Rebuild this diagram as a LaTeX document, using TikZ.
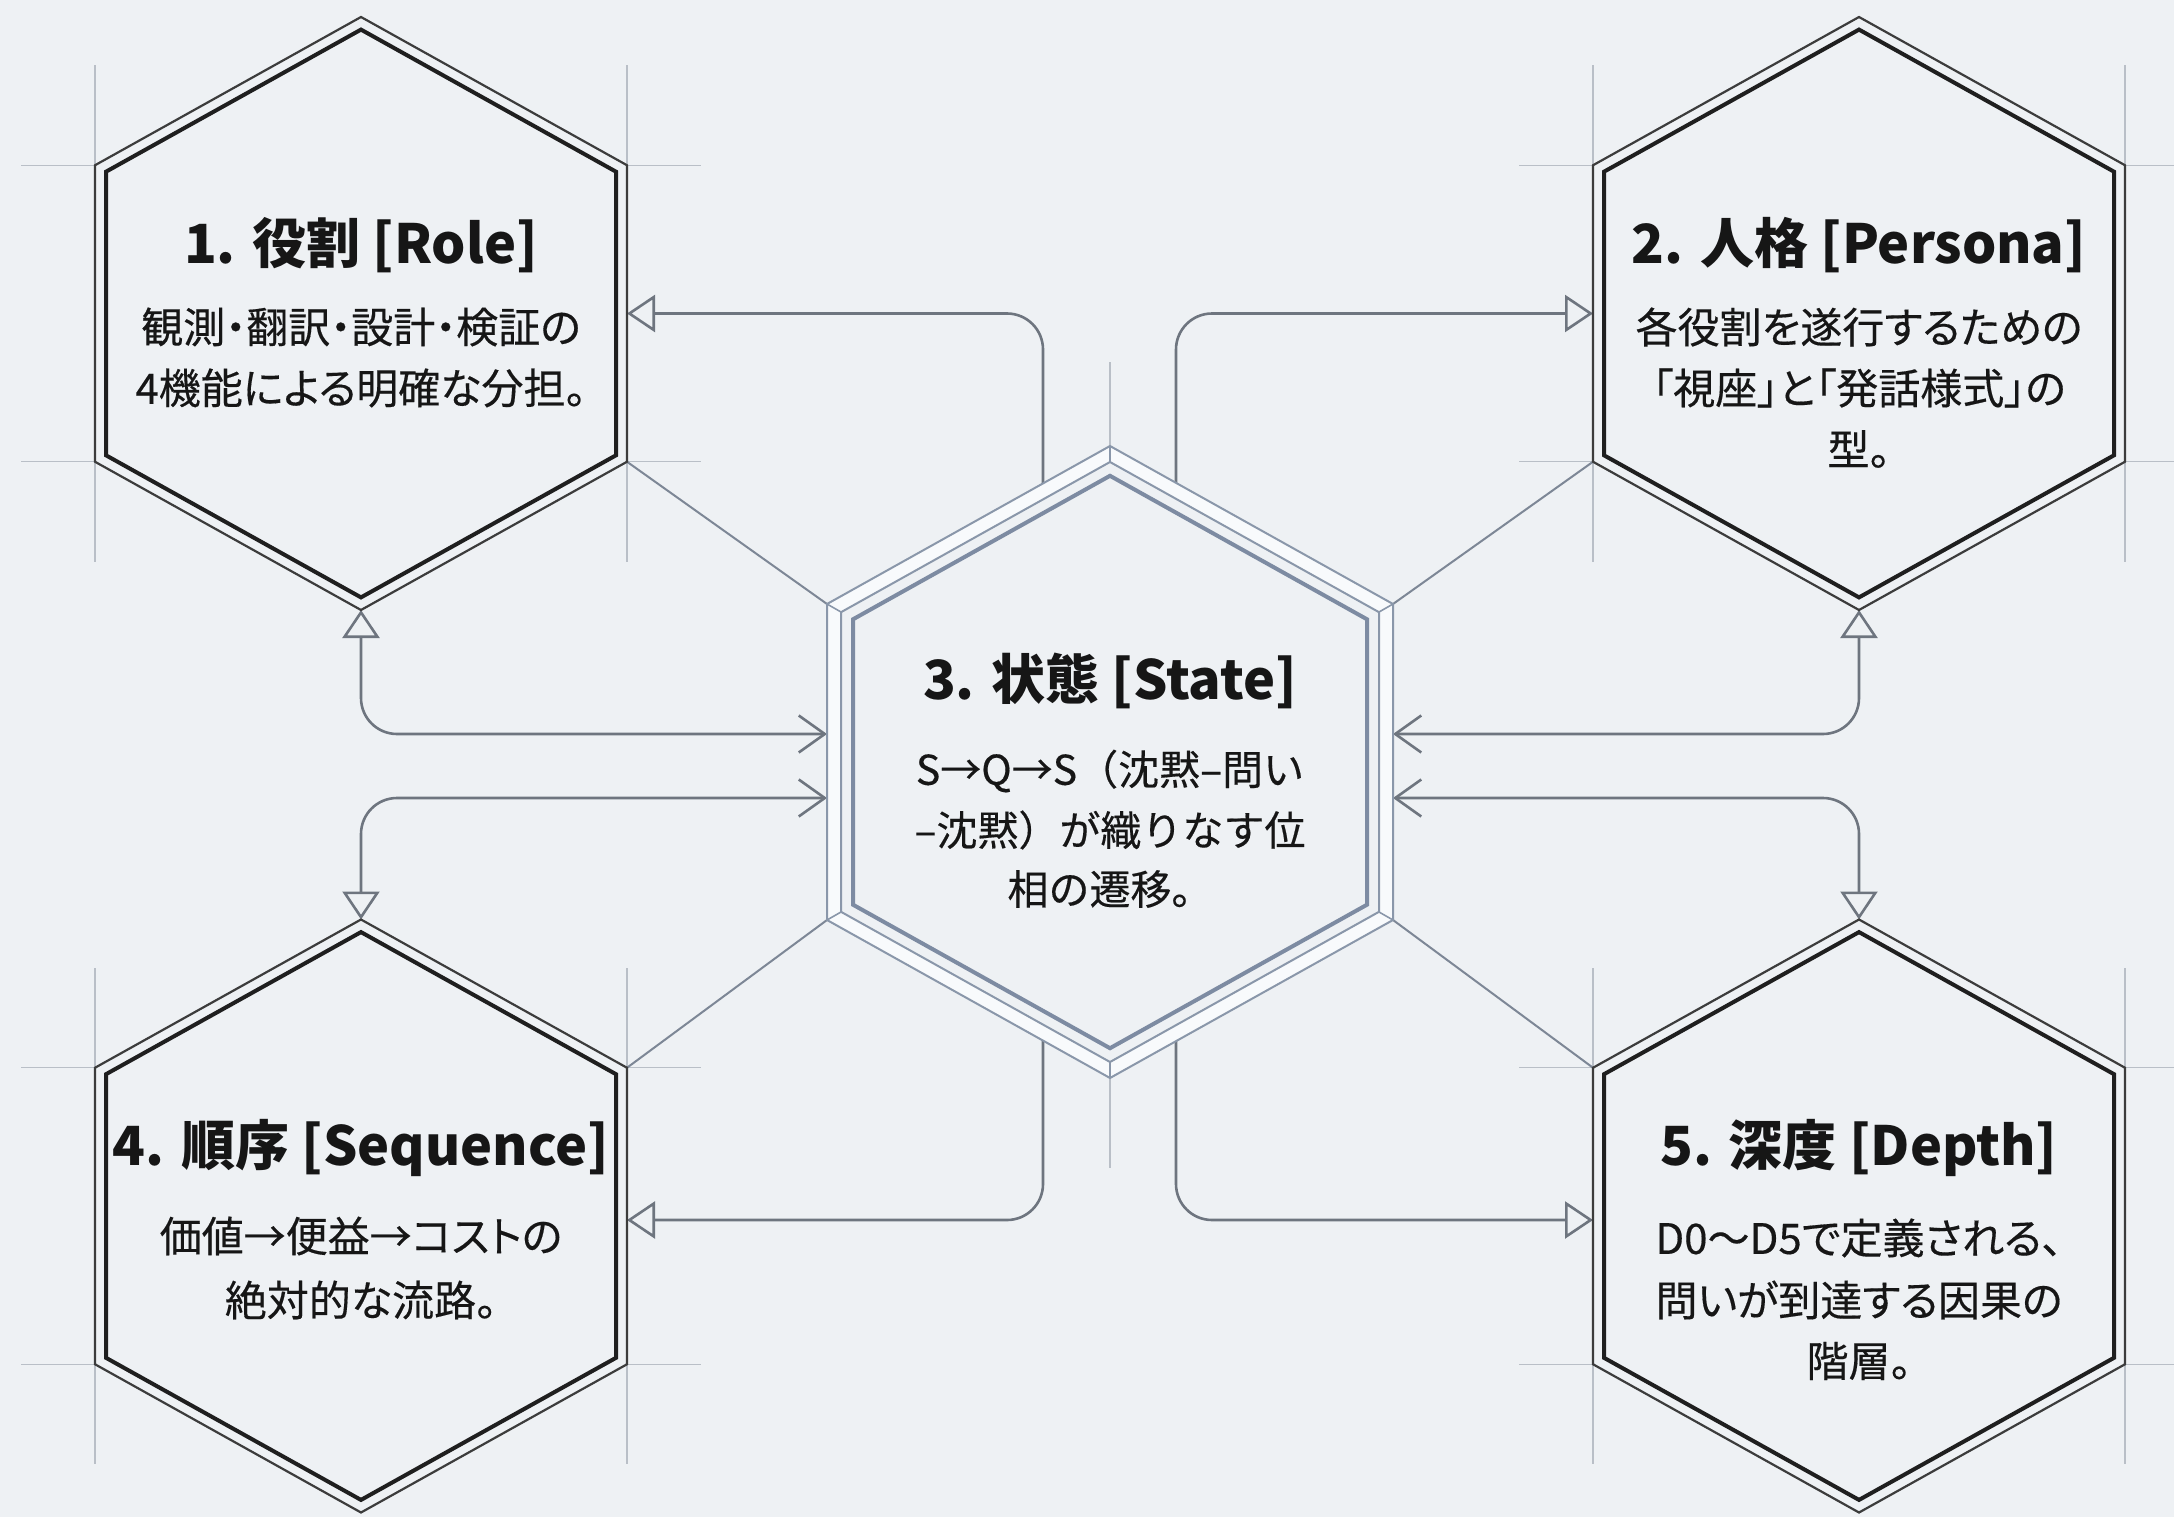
\documentclass[tikz,border=0pt]{standalone}
\usepackage{fontspec}
\newfontfamily\jp{Noto Sans CJK JP}
\newfontfamily\jpb[RawFeature=+palt, FakeBold=0.35]{Noto Sans CJK JP}
\newfontfamily\jpc[FakeBold=0.35]{Noto Sans CJK JP}
\usetikzlibrary{arrows.meta,calc}
\definecolor{bgc}{HTML}{EEF1F4}
\definecolor{guidec}{HTML}{B9BFC7}
\definecolor{connc}{HTML}{6E757F}
\definecolor{diagc}{HTML}{7D8796}
\definecolor{hexo}{HTML}{3C3C3C}
\definecolor{hexi}{HTML}{1F1F1F}
\definecolor{cenc}{HTML}{8A97AA}
\definecolor{cenic}{HTML}{7D8BA2}
\definecolor{cenband}{HTML}{F8FAFC}
\definecolor{txtc}{HTML}{161616}
% hexagon: style, cx, cy, half width, apex radius, vertex offset
\newcommand\drawhex[6]{\path[#1] (#2,#3-#5) -- (#2+#4,#3-#6) -- (#2+#4,#3+#6) -- (#2,#3+#5) -- (#2-#4,#3+#6) -- (#2-#4,#3-#6) -- cycle;}
% guide lines round an outer hexagon: cx, cy
\newcommand\hexguides[2]{%
  \draw[guidec, line width=1.4pt] (#1-266,#2-248) -- (#1-266,#2+248);
  \draw[guidec, line width=1.4pt] (#1+266,#2-248) -- (#1+266,#2+248);
  \draw[guidec, line width=1.4pt] (#1-340,#2-148.25) -- (#1-266,#2-148.25);
  \draw[guidec, line width=1.4pt] (#1-340,#2+148.25) -- (#1-266,#2+148.25);
  \draw[guidec, line width=1.4pt] (#1+266,#2-148.25) -- (#1+340,#2-148.25);
  \draw[guidec, line width=1.4pt] (#1+266,#2+148.25) -- (#1+340,#2+148.25);}
\newcommand\sidehex[2]{%
  \drawhex{fill=bgc, draw=hexo, line width=2.2pt, line join=miter}{#1}{#2}{266}{296.5}{148.25}
  \drawhex{draw=hexi, line width=4pt, line join=miter}{#1}{#2}{255}{283.9}{141.8}}
\tikzset{
  hexbox/.style={draw=none, inner sep=0pt, outer sep=0pt},
  conn/.style={draw=connc, line width=2.6pt, rounded corners=36pt},
  tri/.tip={Triangle[open, length=28pt, width=37pt]},
  barb/.tip={Straight Barb[length=26pt, width=37pt]},
  ttl/.style={font=\jp\bfseries\fontsize{54}{64}\selectfont, text=txtc, inner sep=0pt},
  bod/.style={font=\jpb\fontsize{42}{50}\selectfont, text=txtc, inner sep=0pt},
  bodc/.style={font=\jpc\fontsize{41}{50}\selectfont, text=txtc, inner sep=0pt},
  diag/.style={draw=diagc, line width=2pt}
}
\begin{document}
\begin{tikzpicture}[x=1pt, y=-1pt]
\useasboundingbox (0,0) rectangle (2174,1517);
\fill[bgc] (0,0) rectangle (2174,1517);
\clip (0,0) rectangle (2174,1517);

% invisible boxes naming the hexagons
\node[hexbox, minimum width=532pt, minimum height=593pt] (h1) at (361,313.5) {};
\node[hexbox, minimum width=532pt, minimum height=593pt] (h2) at (1859,313.5) {};
\node[hexbox, minimum width=566pt, minimum height=632pt] (h3) at (1110,762) {};
\node[hexbox, minimum width=532pt, minimum height=593pt] (h4) at (361,1216) {};
\node[hexbox, minimum width=532pt, minimum height=593pt] (h5) at (1859,1216) {};

% guides
\hexguides{361}{313.5}
\hexguides{1859}{313.5}
\hexguides{361}{1216}
\hexguides{1859}{1216}
\draw[guidec, line width=1.6pt] (h3.north) -- ++(0,-84);
\draw[guidec, line width=1.6pt] (h3.south) -- ++(0,90);

% diagonal links between hexagon corners
\draw[diag] ($(h1.east)+(0,148.25)$) -- ($(h3.west)+(0,-158)$);
\draw[diag] ($(h2.west)+(0,148.25)$) -- ($(h3.east)+(0,-158)$);
\draw[diag] ($(h4.east)+(0,-148.25)$) -- ($(h3.west)+(0,158)$);
\draw[diag] ($(h5.west)+(0,-148.25)$) -- ($(h3.east)+(0,158)$);

% connectors
\draw[conn, -{tri}] ($(h3.north)+(-67,37.4)$) |- (h1.east);
\draw[conn, -{tri}] ($(h3.north)+(66,37.4)$) |- (h2.west);
\draw[conn, -{tri}] ($(h3.south)+(-67,-37.4)$) |- ($(h4.east)+(0,4)$);
\draw[conn, -{tri}] ($(h3.south)+(66,-37.4)$) |- ($(h5.west)+(0,4)$);
\draw[conn, {tri}-{barb}] (h1.south) |- ($(h3.west)+(0,-28)$);
\draw[conn, {tri}-{barb}] (h4.north) |- ($(h3.west)+(0,36)$);
\draw[conn, {tri}-{barb}] (h2.south) |- ($(h3.east)+(0,-28)$);
\draw[conn, {tri}-{barb}] (h5.north) |- ($(h3.east)+(0,36)$);

% side hexagons
\sidehex{361}{313.5}
\sidehex{1859}{313.5}
\sidehex{361}{1216}
\sidehex{1859}{1216}

% central hexagon
\drawhex{fill=cenband, draw=cenc, line width=2pt, line join=miter}{1110}{762}{283}{316}{158}
\drawhex{fill=bgc, draw=cenc, line width=2pt, line join=miter}{1110}{762}{269}{300}{149.8}
\drawhex{draw=cenic, line width=4pt, line join=miter}{1110}{762}{257}{286.2}{142.7}
\draw[cenc, line width=1.6pt] (1110,446) -- (1110,462) (1110,1078) -- (1110,1062)
  (827,604) -- (841,612) (1393,604) -- (1379,612) (827,920) -- (841,912) (1393,920) -- (1379,912);

% texts
\node[ttl] (t1) at (361,245) {1. 役割 [Role]};
\node[bod] (b1a) at (361,327) {観測・翻訳・設計・検証の};
\node[bod] (b1b) at (361,388) {4機能による明確な分担。};
\node[ttl] (t2) at (1859,245) {2. 人格 [Persona]};
\node[bod] (b2a) at (1859,327) {各役割を遂行するための};
\node[bod] (b2b) at (1859,388) {「視座」と「発話様式」の};
\node[bod] (b2c) at (1859,449) {型。};
\node[ttl] (t3) at (1110,681) {3. 状態 [State]};
\node[bodc] (b3a) at (1110,771) {S→Q→S（沈黙–問い};
\node[bodc] (b3b) at (1110,830) {–沈黙）が織りなす位};
\node[bodc] (b3c) at (1110,889) {相の遷移。};
\node[ttl] (t4) at (361,1148) {4. 順序 [Sequence]};
\node[bod] (b4a) at (361,1236) {価値→便益→コストの};
\node[bod] (b4b) at (361,1300) {絶対的な流路。};
\node[ttl] (t5) at (1859,1148) {5. 深度 [Depth]};
\node[bod] (b5a) at (1859,1238) {D0～D5で定義される、};
\node[bod] (b5b) at (1859,1300) {問いが到達する因果の};
\node[bod] (b5c) at (1859,1361) {階層。};
\end{tikzpicture}
\end{document}
